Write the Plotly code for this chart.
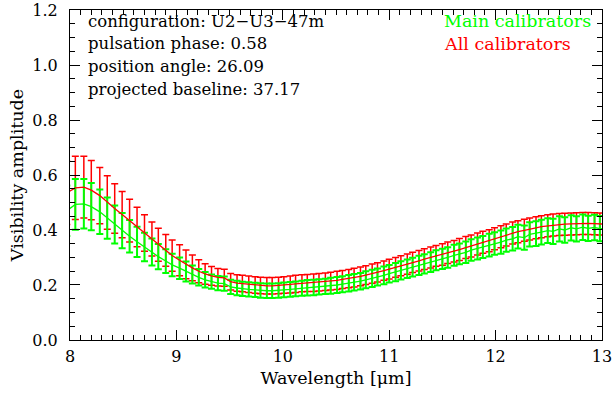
import plotly.graph_objects as go

wavelength = [7.97, 8.05, 8.13, 8.20, 8.28, 8.35, 8.42, 8.49, 8.56, 8.63,
              8.70, 8.77, 8.83, 8.90, 8.96, 9.03, 9.09, 9.15, 9.21, 9.27,
              9.33, 9.39, 9.45, 9.51, 9.57, 9.62, 9.68, 9.74, 9.79, 9.85,
              9.90, 9.96, 10.01, 10.07, 10.12, 10.18, 10.23, 10.29, 10.34, 10.40,
              10.45, 10.51, 10.56, 10.62, 10.67, 10.73, 10.78, 10.84, 10.89, 10.95,
              11.00, 11.06, 11.11, 11.17, 11.22, 11.28, 11.33, 11.39, 11.44, 11.50,
              11.55, 11.61, 11.66, 11.72, 11.77, 11.83, 11.88, 11.94, 11.99, 12.05,
              12.10, 12.16, 12.21, 12.27, 12.32, 12.38, 12.43, 12.49, 12.54, 12.60,
              12.65, 12.71, 12.76, 12.82, 12.87, 12.93, 12.98, 13.04]

all_vis = [0.535, 0.553, 0.556, 0.545, 0.525, 0.500, 0.478, 0.456, 0.434, 0.411,
           0.389, 0.367, 0.346, 0.326, 0.307, 0.290, 0.275, 0.262, 0.250, 0.240,
           0.233, 0.228, 0.226, 0.212, 0.207, 0.205, 0.203, 0.200, 0.198, 0.197,
           0.197, 0.198, 0.200, 0.202, 0.204, 0.206, 0.207, 0.208, 0.210, 0.212,
           0.214, 0.217, 0.220, 0.223, 0.227, 0.231, 0.236, 0.241, 0.246, 0.252,
           0.258, 0.264, 0.270, 0.276, 0.282, 0.288, 0.294, 0.300, 0.306, 0.311,
           0.317, 0.323, 0.329, 0.336, 0.342, 0.349, 0.355, 0.361, 0.368, 0.375,
           0.382, 0.389, 0.394, 0.399, 0.404, 0.408, 0.412, 0.415, 0.418, 0.420,
           0.421, 0.422, 0.423, 0.424, 0.424, 0.423, 0.422, 0.421]

all_err = [0.115, 0.115, 0.112, 0.108, 0.102, 0.097, 0.090, 0.084, 0.078, 0.072,
           0.066, 0.062, 0.060, 0.058, 0.057, 0.056, 0.052, 0.047, 0.042, 0.037,
           0.034, 0.032, 0.031, 0.030, 0.030, 0.030, 0.030, 0.030, 0.030, 0.030,
           0.030, 0.030, 0.030, 0.031, 0.031, 0.031, 0.031, 0.032, 0.032, 0.032,
           0.032, 0.033, 0.033, 0.033, 0.034, 0.034, 0.034, 0.035, 0.035, 0.035,
           0.036, 0.036, 0.036, 0.037, 0.037, 0.037, 0.038, 0.038, 0.038, 0.039,
           0.039, 0.039, 0.040, 0.040, 0.040, 0.040, 0.040, 0.040, 0.040, 0.040,
           0.040, 0.040, 0.040, 0.040, 0.040, 0.040, 0.040, 0.040, 0.040, 0.040,
           0.040, 0.040, 0.040, 0.040, 0.040, 0.040, 0.040, 0.040]

main_vis = [0.470, 0.493, 0.495, 0.485, 0.466, 0.443, 0.420, 0.398, 0.377, 0.357,
            0.338, 0.320, 0.303, 0.287, 0.273, 0.261, 0.249, 0.238, 0.228, 0.219,
            0.212, 0.207, 0.205, 0.193, 0.189, 0.186, 0.184, 0.182, 0.180, 0.179,
            0.179, 0.180, 0.182, 0.184, 0.186, 0.188, 0.190, 0.191, 0.193, 0.195,
            0.197, 0.200, 0.203, 0.206, 0.210, 0.214, 0.219, 0.224, 0.229, 0.235,
            0.241, 0.247, 0.253, 0.259, 0.265, 0.271, 0.277, 0.283, 0.290, 0.295,
            0.300, 0.308, 0.313, 0.319, 0.327, 0.333, 0.338, 0.345, 0.351, 0.356,
            0.363, 0.368, 0.376, 0.372, 0.384, 0.387, 0.392, 0.398, 0.395, 0.404,
            0.400, 0.408, 0.404, 0.410, 0.406, 0.409, 0.405, 0.404]

main_err = [0.092, 0.092, 0.090, 0.086, 0.081, 0.075, 0.069, 0.064, 0.059, 0.055,
            0.052, 0.049, 0.046, 0.043, 0.041, 0.039, 0.036, 0.033, 0.030, 0.028,
            0.026, 0.026, 0.026, 0.026, 0.026, 0.026, 0.026, 0.026, 0.026, 0.026,
            0.026, 0.026, 0.027, 0.027, 0.027, 0.027, 0.028, 0.028, 0.028, 0.028,
            0.029, 0.029, 0.029, 0.030, 0.030, 0.030, 0.031, 0.031, 0.031, 0.032,
            0.032, 0.033, 0.033, 0.034, 0.034, 0.035, 0.035, 0.036, 0.036, 0.037,
            0.037, 0.038, 0.038, 0.039, 0.039, 0.040, 0.040, 0.041, 0.041, 0.042,
            0.042, 0.043, 0.043, 0.044, 0.044, 0.045, 0.045, 0.045, 0.046, 0.046,
            0.046, 0.046, 0.046, 0.046, 0.046, 0.046, 0.046, 0.046]

x_ticks = [8, 9, 10, 11, 12, 13]
y_ticks = [0.0, 0.2, 0.4, 0.6, 0.8, 1.0, 1.2]

info_lines = ["configuration: U2\u2212U3\u221247m",
              "pulsation phase: 0.58",
              "position angle: 26.09",
              "projected baseline: 37.17"]
legend_labels = ["Main calibrators", "All calibrators"]

RED = "#ff0000"
GREEN = "#00ff00"
FONT = "DejaVu Serif"
FS = 16
FS_TXT = 16.5
FS_LEG = 17.5
FS_TITLE = 17.5

fig = go.Figure()
fig.add_trace(go.Scatter(x=wavelength, y=all_vis, mode="markers",
                         marker=dict(size=0.1, color=RED),
                         error_y=dict(type="data", array=all_err, color=RED,
                                      thickness=1.5, width=3.5),
                         showlegend=False, hoverinfo="skip"))
fig.add_trace(go.Scatter(x=wavelength, y=main_vis, mode="markers",
                         marker=dict(size=0.1, color=GREEN),
                         error_y=dict(type="data", array=main_err, color=GREEN,
                                      thickness=2, width=3.5),
                         showlegend=False, hoverinfo="skip"))
fig.add_trace(go.Scatter(x=wavelength, y=all_vis, mode="lines",
                         line=dict(color=RED, width=1.3),
                         showlegend=False, hoverinfo="skip"))
fig.add_trace(go.Scatter(x=wavelength, y=main_vis, mode="lines",
                         line=dict(color=GREEN, width=1.3),
                         showlegend=False, hoverinfo="skip"))

for i, t in enumerate(info_lines):
    fig.add_annotation(x=0.03, xref="paper", y=1.2 - 0.04 - i * 0.083, yref="y",
                       text=t, showarrow=False, xanchor="left", yanchor="middle",
                       font=dict(family=FONT, size=FS_TXT, color="black"))
for i, (t, c) in enumerate(zip(legend_labels, [GREEN, RED])):
    fig.add_annotation(x=0.699, xref="paper", y=1.2 - 0.04 - i * 0.083, yref="y",
                       text=t, showarrow=False, xanchor="left", yanchor="middle",
                       font=dict(family=FONT, size=FS_LEG, color=c))

axis_common = dict(showline=True, linecolor="black", linewidth=1, mirror="allticks",
                   ticks="inside", ticklen=10, tickcolor="black", tickwidth=1,
                   showgrid=False, zeroline=False, ticklabeloverflow="allow",
                   automargin=False,
                   tickfont=dict(family=FONT, size=FS, color="black"))

fig.update_xaxes(range=[7.9999, 13.0001], tickmode="array", tickvals=x_ticks,
                 ticktext=[str(v) for v in x_ticks], ticklabelstandoff=2,
                 minor=dict(dtick=0.1, tick0=8, ticks="inside", ticklen=5,
                            tickcolor="black", showgrid=False),
                 title=dict(text="Wavelength [\u03bcm]", standoff=6,
                            font=dict(family=FONT, size=FS_TITLE, color="black")),
                 **axis_common)
fig.update_yaxes(range=[-0.0001, 1.2001], tickmode="array", tickvals=y_ticks,
                 ticktext=["%.1f" % v for v in y_ticks], ticklabelstandoff=8,
                 minor=dict(dtick=0.05, tick0=0, ticks="inside", ticklen=5,
                            tickcolor="black", showgrid=False),
                 title=dict(text="Visibility amplitude", standoff=4,
                            font=dict(family=FONT, size=FS_TITLE, color="black")),
                 **axis_common)

fig.update_layout(width=612, height=393, plot_bgcolor="white", paper_bgcolor="white",
                  margin=dict(l=70, r=10, t=10, b=53), showlegend=False)

fig.write_html("out.html")
